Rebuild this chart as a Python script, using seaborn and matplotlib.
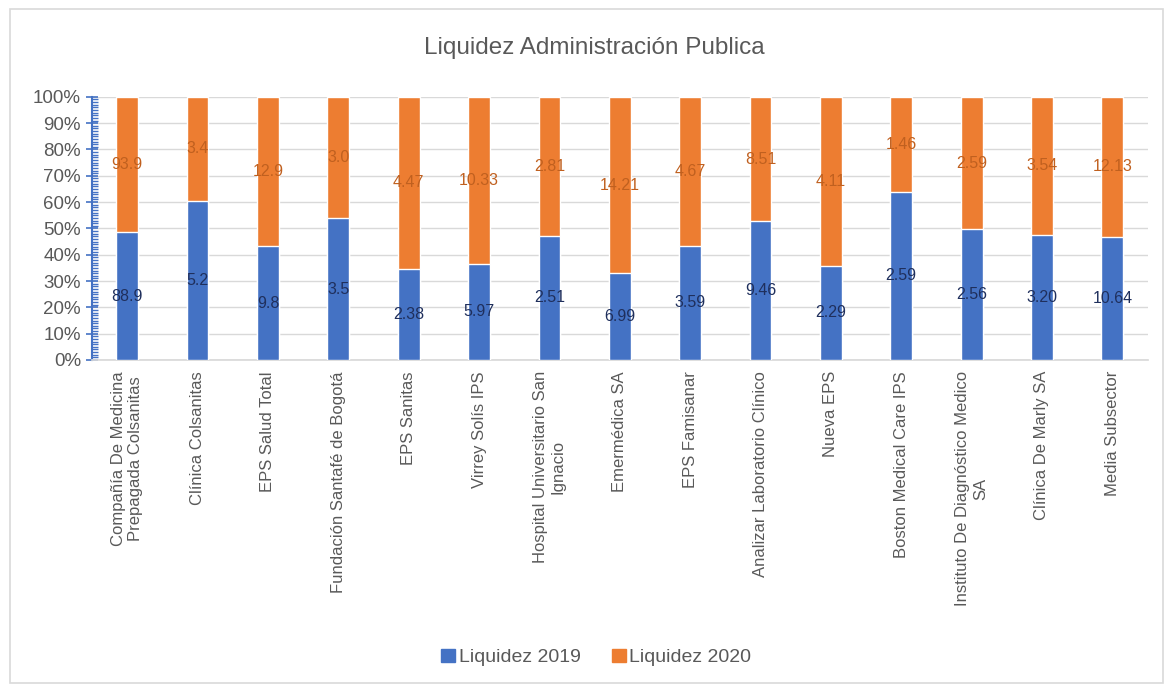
import pandas as pd
import matplotlib.pyplot as plt
import matplotlib.patches as mpatches
from matplotlib.ticker import MultipleLocator, PercentFormatter
import seaborn as sns

# Data
entidades = [
    "Compañía De Medicina\nPrepagada Colsanitas",
    "Clínica Colsanitas",
    "EPS Salud Total",
    "Fundación Santafé de Bogotá",
    "EPS Sanitas",
    "Virrey Solís IPS",
    "Hospital Universitario San\nIgnacio",
    "Emermédica SA",
    "EPS Famisanar",
    "Analizar Laboratorio Clínico",
    "Nueva EPS",
    "Boston Medical Care IPS",
    "Instituto De Diagnóstico Medico\nSA",
    "Clínica De Marly SA",
    "Media Subsector",
]
liquidez_2019 = [88.9, 5.2, 9.8, 3.5, 2.38, 5.97, 2.51, 6.99, 3.59, 9.46, 2.29, 2.59, 2.56, 3.20, 10.64]
liquidez_2020 = [93.9, 3.4, 12.9, 3.0, 4.47, 10.33, 2.81, 14.21, 4.67, 8.51, 4.11, 1.46, 2.59, 3.54, 12.13]
etiquetas_2019 = ["88.9", "5.2", "9.8", "3.5", "2.38", "5.97", "2.51", "6.99", "3.59", "9.46", "2.29", "2.59", "2.56", "3.20", "10.64"]
etiquetas_2020 = ["93.9", "3.4", "12.9", "3.0", "4.47", "10.33", "2.81", "14.21", "4.67", "8.51", "4.11", "1.46", "2.59", "3.54", "12.13"]

AZUL = "#4472C4"
NARANJA = "#ED7D31"
GRIS = "#595959"

df = pd.DataFrame({"entidad": entidades, "l2019": liquidez_2019, "l2020": liquidez_2020})
df["total"] = df["l2019"] + df["l2020"]
df["p2019"] = df["l2019"] / df["total"] * 100
df["p_total"] = 100.0

sns.set_theme(style="white")
plt.rcParams["font.family"] = ["Liberation Sans", "DejaVu Sans"]

fig = plt.figure(figsize=(11.65, 6.87), dpi=100)
ax = fig.add_axes([0.079, 0.476, 0.906, 0.383])

# 100% stacked: orange full bar behind, blue share in front
sns.barplot(data=df, x="entidad", y="p_total", color=NARANJA, width=0.31,
            saturation=1, ax=ax, zorder=2)
sns.barplot(data=df, x="entidad", y="p2019", color=AZUL, width=0.31,
            saturation=1, ax=ax, zorder=3)

# data labels in the middle of each segment
for i, row in df.iterrows():
    p = row["p2019"]
    ax.text(i, p / 2, etiquetas_2019[i], ha="center", va="center",
            fontsize=11.5, color="#1F2F5C", zorder=5)
    ax.text(i, p + (100 - p) / 2, etiquetas_2020[i], ha="center", va="center",
            fontsize=11.5, color="#C0601F", zorder=5)

ax.set_ylim(0, 100)
ax.set_xlim(-0.5, len(entidades) - 0.5)
ax.yaxis.set_major_locator(MultipleLocator(10))
ax.yaxis.set_minor_locator(MultipleLocator(1))
ax.yaxis.set_major_formatter(PercentFormatter(decimals=0))
ax.grid(axis="y", color="#D9D9D9", linewidth=1, zorder=0)
ax.set_axisbelow(True)

for s in ["top", "right"]:
    ax.spines[s].set_visible(False)
ax.spines["left"].set_color(AZUL)
ax.spines["left"].set_linewidth(1.5)
ax.spines["bottom"].set_color("#D9D9D9")

ax.tick_params(axis="y", which="major", direction="inout", length=8, width=1.2,
               color=AZUL, labelsize=13.5, labelcolor=GRIS, left=True, pad=4)
ax.tick_params(axis="y", which="minor", direction="in", length=4, width=1,
               color=AZUL, left=True)
ax.tick_params(axis="x", length=0, labelsize=12, labelcolor=GRIS, pad=8)
ax.set_xticks(range(len(entidades)))
ax.set_xticklabels(entidades, rotation=90, va="top", ha="center",
                   multialignment="center")
ax.set_xlabel("")
ax.set_ylabel("")

fig.text(0.51, 0.93, "Liquidez Administración Publica", ha="center", va="center",
         fontsize=17.5, color=GRIS)

handles = [mpatches.Patch(color=AZUL, label="Liquidez 2019"),
           mpatches.Patch(color=NARANJA, label="Liquidez 2020")]
fig.legend(handles=handles, loc="center", bbox_to_anchor=(0.512, 0.043), ncol=2,
           frameon=False, fontsize=14, labelcolor=GRIS, handlelength=0.7,
           handleheight=0.7, handletextpad=0.2, columnspacing=1.6)

# chart border
fig.patches.append(mpatches.Rectangle((0.009, 0.006), 0.989, 0.981, transform=fig.transFigure,
                                      fill=False, edgecolor="#D9D9D9", linewidth=1.2))

fig.savefig("out.png", dpi=100)
